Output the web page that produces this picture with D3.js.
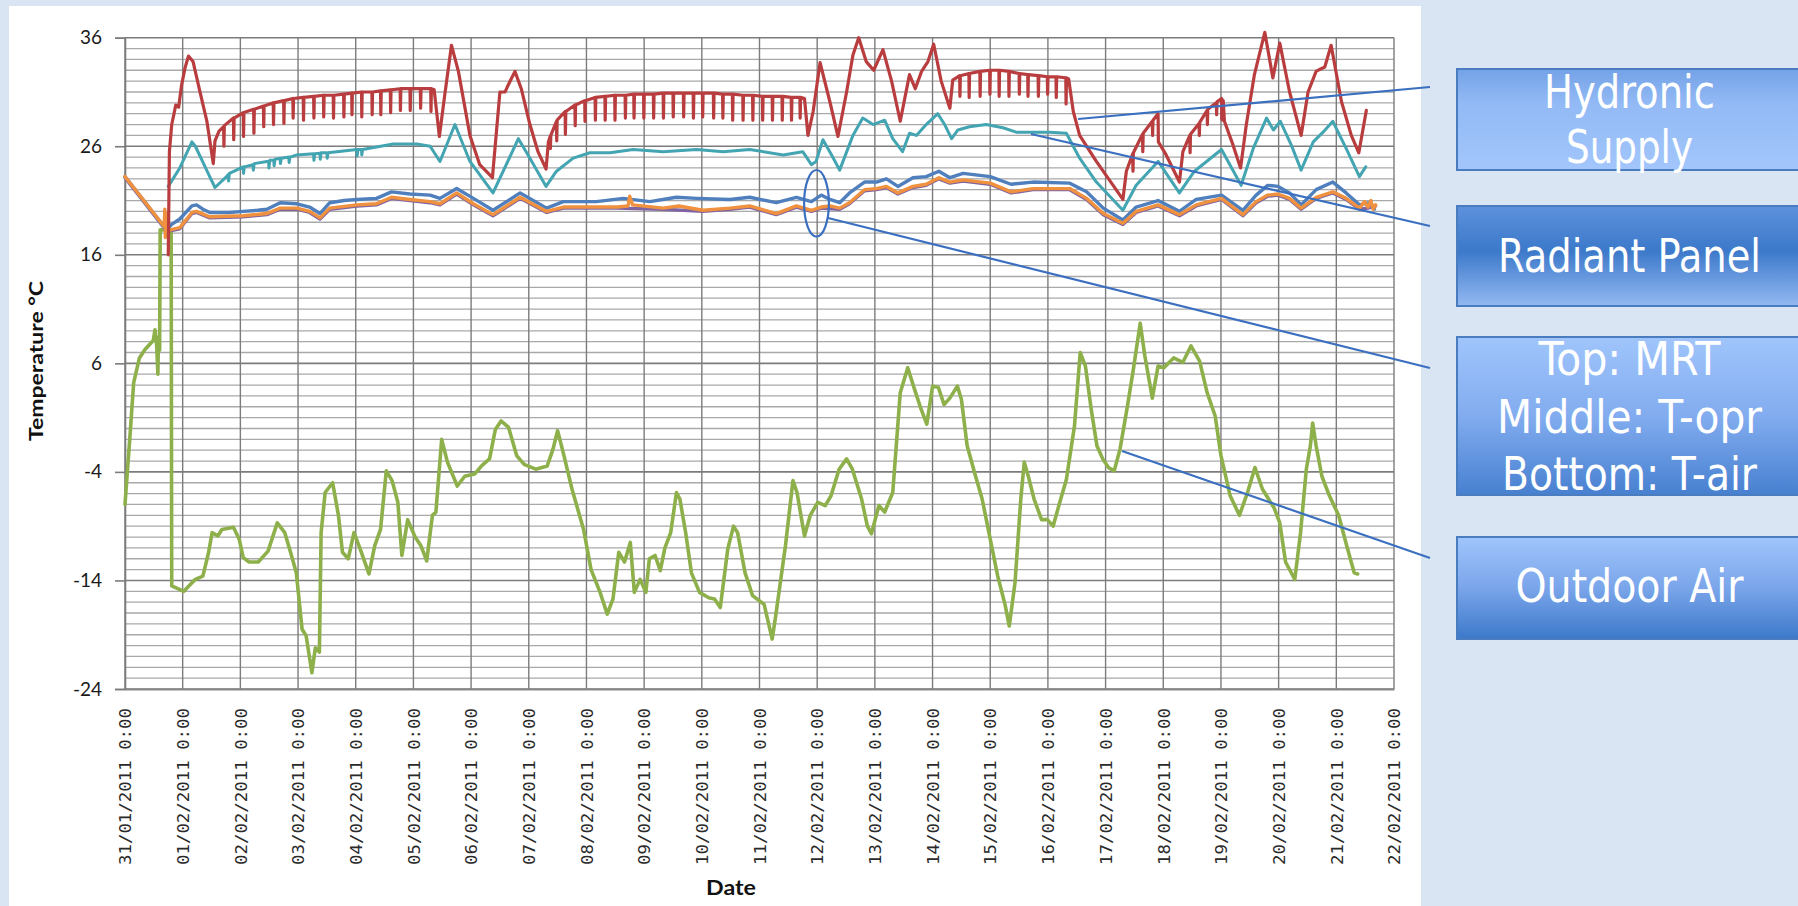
<!DOCTYPE html>
<html><head><meta charset="utf-8">
<script src="https://cdn.jsdelivr.net/npm/d3@7"></script>
<style>body{margin:0;background:#dae5f3;} svg{display:block}</style>
</head><body><svg id="c" width="1798" height="906"></svg>
<script>
// ---------------- DATA ----------------
const dateLabels = ["31/01/2011 0:00","01/02/2011 0:00","02/02/2011 0:00","03/02/2011 0:00","04/02/2011 0:00","05/02/2011 0:00","06/02/2011 0:00","07/02/2011 0:00","08/02/2011 0:00","09/02/2011 0:00","10/02/2011 0:00","11/02/2011 0:00","12/02/2011 0:00","13/02/2011 0:00","14/02/2011 0:00","15/02/2011 0:00","16/02/2011 0:00","17/02/2011 0:00","18/02/2011 0:00","19/02/2011 0:00","20/02/2011 0:00","21/02/2011 0:00","22/02/2011 0:00"];
const yTicks = [-24,-14,-4,6,16,26,36];
// [days since 31/01/2011 0:00, °C]
const hydronicSupply = [[0.75,16.0],[0.77,25.5],[0.81,28.0],[0.85,29.0],[0.88,29.8],[0.93,29.6],[0.98,31.6],[1.04,33.2],[1.10,34.3],[1.18,33.8],[1.30,31.0],[1.42,28.3],[1.53,24.4],[1.56,26.5],[1.63,27.4],
[1.71,27.8],[1.715,26.0],[1.722,27.9],[1.88,28.6],[1.885,26.6],[1.892,28.6],[2.05,29.1],[2.055,26.9],[2.062,29.1],[2.23,29.4],[2.235,27.2],[2.242,29.4],[2.40,29.7],[2.405,27.8],[2.412,29.7],[2.57,30.0],[2.575,28.0],[2.582,30.0],[2.75,30.2],[2.755,28.1],[2.762,30.2],[2.91,30.4],[2.915,28.6],[2.922,30.4],[3.09,30.5],[3.095,28.4],[3.102,30.5],[3.27,30.6],[3.275,28.6],[3.282,30.6],[3.44,30.7],[3.445,28.7],[3.452,30.7],[3.61,30.7],[3.615,28.6],[3.622,30.7],[3.79,30.8],[3.795,28.7],[3.802,30.8],[3.93,30.9],[3.935,28.9],[3.942,30.9],[4.10,31.0],[4.105,28.7],[4.112,31.0],[4.28,31.0],[4.285,28.9],[4.292,31.0],[4.43,31.1],[4.435,28.9],[4.442,31.1],[4.60,31.2],[4.605,29.1],[4.612,31.2],[4.77,31.3],[4.775,29.3],[4.782,31.3],[4.94,31.3],[4.945,29.3],[4.952,31.3],[5.12,31.3],[5.125,29.5],[5.132,31.3],[5.30,31.3],[5.305,29.2],[5.312,31.3],
[5.36,31.2],[5.45,26.9],[5.55,31.0],[5.66,35.3],[5.78,32.9],[5.98,27.0],[6.15,24.3],[6.37,23.1],[6.45,28.0],[6.50,31.0],[6.59,31.0],[6.64,31.6],[6.76,32.9],[6.87,31.3],[7.02,28.0],[7.16,25.5],[7.30,23.9],[7.34,26.4],
[7.37,26.9],[7.375,25.8],[7.382,27.0],[7.48,28.3],[7.485,26.5],[7.492,28.4],[7.63,29.2],[7.635,27.1],[7.642,29.2],[7.80,29.8],[7.805,27.9],[7.812,29.8],[7.97,30.2],[7.975,28.3],[7.982,30.2],[8.15,30.5],[8.155,28.4],[8.162,30.5],[8.32,30.6],[8.325,28.4],[8.332,30.6],[8.49,30.7],[8.495,28.4],[8.502,30.7],[8.67,30.7],[8.675,28.6],[8.682,30.7],[8.82,30.8],[8.825,28.6],[8.832,30.8],[8.99,30.8],[8.995,28.6],[9.002,30.8],[9.16,30.8],[9.165,28.6],[9.172,30.8],[9.33,30.9],[9.335,28.6],[9.342,30.9],[9.50,30.9],[9.505,28.7],[9.512,30.9],[9.68,30.9],[9.685,28.7],[9.692,30.9],[9.85,30.9],[9.855,28.6],[9.862,30.9],[10.01,30.9],[10.015,28.7],[10.022,30.9],[10.20,30.9],[10.205,28.6],[10.212,30.9],[10.36,30.8],[10.365,28.6],[10.372,30.8],[10.53,30.8],[10.535,28.4],[10.542,30.8],[10.71,30.7],[10.715,28.4],[10.722,30.7],[10.88,30.7],[10.885,28.4],[10.892,30.7],[11.05,30.6],[11.055,28.4],[11.062,30.6],[11.22,30.6],[11.225,28.4],[11.232,30.6],[11.39,30.6],[11.395,28.4],[11.402,30.6],[11.55,30.5],[11.555,28.4],[11.562,30.5],[11.70,30.5],[11.705,28.6],[11.712,30.5],
[11.78,30.4],[11.84,27.0],[11.93,29.2],[12.05,33.7],[12.22,30.1],[12.36,26.9],[12.51,31.0],[12.62,34.4],[12.72,36.0],[12.85,33.8],[12.98,33.0],[13.14,34.9],[13.29,32.0],[13.44,28.3],[13.60,32.6],[13.70,31.3],[13.81,32.9],[13.92,33.8],[14.02,35.4],[14.15,32.0],[14.30,29.5],[14.35,32.1],
[14.47,32.5],[14.475,30.6],[14.482,32.5],[14.63,32.7],[14.635,30.5],[14.642,32.7],[14.82,32.9],[14.825,30.6],[14.832,32.9],[14.99,33.0],[14.995,30.8],[15.002,33.0],[15.15,33.0],[15.155,30.6],[15.162,33.0],[15.32,32.9],[15.325,30.6],[15.332,32.9],[15.50,32.7],[15.505,30.8],[15.512,32.7],[15.65,32.6],[15.655,30.6],[15.662,32.6],[15.83,32.5],[15.835,30.6],[15.842,32.5],[15.99,32.4],[15.995,30.8],[16.002,32.4],[16.14,32.4],[16.145,30.5],[16.152,32.4],[16.31,32.3],[16.315,29.9],[16.322,32.3],
[16.36,32.2],[16.44,29.2],[16.55,27.0],[16.84,24.6],[17.30,21.1],[17.36,23.7],[17.47,25.3],[17.475,23.7],[17.482,25.4],[17.64,27.1],[17.645,25.5],[17.652,27.2],[17.81,28.3],[17.815,27.0],[17.822,28.4],[17.91,29.0],[17.915,26.4],[18.05,25.2],[18.28,22.7],[18.34,25.5],[18.46,27.0],[18.465,25.4],[18.472,27.1],[18.62,28.1],[18.625,27.0],[18.632,28.2],[18.76,29.3],[18.765,28.0],[18.772,29.4],[18.92,30.0],[18.925,28.9],[18.932,30.1],[19.01,30.4],[19.015,28.5],[19.025,30.3],[19.03,28.4],[19.04,30.2],[19.06,28.3],[19.21,26.1],[19.34,24.0],[19.44,28.0],[19.58,32.6],[19.76,36.5],[19.90,32.3],[20.02,35.5],[20.19,31.0],[20.39,27.0],[20.51,31.0],[20.65,32.9],[20.72,33.1],[20.80,33.3],[20.91,35.3],[21.09,30.1],[21.26,27.0],[21.39,25.4],[21.52,29.3]];

const radiantPanel = [[0.75,22.3],[0.95,24.0],[1.16,26.4],[1.22,26.0],[1.45,23.4],[1.56,22.2],[1.76,23.2],[1.79,23.4],[1.795,22.8],[1.81,23.5],[2.05,24.1],[2.055,23.5],[2.07,24.1],[2.22,24.3],[2.225,23.8],[2.24,24.4],[2.46,24.6],[2.49,24.6],[2.495,24.0],[2.51,24.7],[2.58,24.7],[2.585,24.2],[2.60,24.8],[2.69,24.9],[2.695,24.4],[2.71,24.9],[2.84,25.0],[2.845,24.5],[2.86,25.0],[2.98,25.2],[3.27,25.3],[3.275,24.7],[3.29,25.3],[3.38,25.35],[3.385,24.8],[3.40,25.4],[3.50,25.4],[3.505,24.9],[3.52,25.4],[4.02,25.7],[4.025,25.1],[4.04,25.7],[4.10,25.7],[4.105,25.2],[4.12,25.7],[4.65,26.2],[5.06,26.2],[5.29,26.0],[5.46,24.6],[5.72,28.0],[5.98,24.6],[6.38,21.7],[6.82,26.7],[7.02,24.9],[7.30,22.3],[7.48,23.7],[7.77,24.9],[8.06,25.4],[8.41,25.4],[8.81,25.7],[9.33,25.5],[9.91,25.7],[10.37,25.5],[10.83,25.7],[11.41,25.2],[11.75,25.5],[11.90,24.3],[11.98,24.6],[12.10,26.6],[12.25,25.2],[12.39,23.8],[12.62,27.0],[12.79,28.6],[12.97,28.0],[13.17,28.4],[13.31,26.7],[13.48,25.5],[13.60,27.2],[13.72,27.0],[13.89,28.0],[14.09,29.0],[14.21,28.0],[14.33,26.7],[14.44,27.5],[14.64,27.8],[14.93,28.0],[15.22,27.7],[15.45,27.3],[15.74,27.3],[16.03,27.3],[16.32,27.2],[16.55,24.9],[16.84,22.7],[17.30,20.1],[17.53,22.4],[17.91,24.6],[18.28,21.7],[18.54,23.7],[19.01,25.7],[19.35,22.4],[19.56,25.8],[19.79,28.6],[19.91,27.5],[20.03,28.3],[20.22,26.1],[20.39,23.8],[20.60,26.4],[20.77,27.3],[20.94,28.3],[21.17,25.8],[21.40,23.2],[21.51,24.1]];

const mrt = [[0,23.2],[0.72,18.3],[0.81,18.8],[0.95,19.3],[1.16,20.5],[1.24,20.6],[1.35,20.2],[1.47,19.9],[1.8,19.9],[2.05,20.0],[2.3,20.1],[2.46,20.2],[2.69,20.8],[2.98,20.7],[3.2,20.4],[3.38,19.8],[3.55,20.8],[3.8,21.0],[4.02,21.1],[4.36,21.2],[4.62,21.8],[4.94,21.6],[5.29,21.5],[5.46,21.2],[5.75,22.1],[6.04,21.2],[6.38,20.1],[6.85,21.7],[7.31,20.3],[7.6,20.9],[8.17,20.9],[8.64,21.2],[9.1,20.9],[9.56,21.3],[9.91,21.2],[10.49,21.1],[10.83,21.3],[11.29,20.8],[11.64,21.3],[11.9,20.9],[12.07,21.5],[12.22,21.1],[12.39,20.8],[12.56,21.7],[12.82,22.7],[13.03,22.7],[13.2,23.0],[13.4,22.3],[13.66,23.1],[13.89,23.2],[14.11,23.7],[14.3,23.1],[14.53,23.5],[15.0,23.2],[15.36,22.5],[15.74,22.7],[16.38,22.6],[16.67,21.8],[16.96,20.3],[17.3,19.2],[17.53,20.4],[17.91,21.0],[18.28,20.0],[18.57,21.1],[19.01,21.5],[19.38,20.1],[19.61,21.5],[19.81,22.4],[19.99,22.3],[20.19,21.7],[20.39,20.6],[20.65,22.0],[20.94,22.7],[21.17,21.7],[21.4,20.6],[21.58,20.8],[21.66,20.2]];

const tOpr = [[0,23.2],[0.68,18.6],[0.69,20.2],[0.70,17.6],[0.72,19.8],[0.74,18.0],[0.78,18.3],[0.95,18.5],[1.16,19.9],[1.24,20.0],[1.47,19.5],[2.05,19.6],[2.46,19.8],[2.69,20.3],[2.98,20.3],[3.2,20.0],[3.38,19.4],[3.55,20.3],[4.02,20.6],[4.36,20.7],[4.62,21.3],[4.94,21.1],[5.29,20.9],[5.46,20.7],[5.75,21.7],[6.04,20.7],[6.38,19.7],[6.85,21.3],[7.31,20.0],[7.6,20.4],[8.52,20.4],[8.72,20.5],[8.75,21.4],[8.8,20.6],[9.33,20.3],[9.6,20.5],[10.02,20.1],[10.49,20.3],[10.83,20.5],[11.29,19.8],[11.64,20.5],[11.9,20.1],[12.07,20.4],[12.22,20.5],[12.39,20.3],[12.56,20.8],[12.82,22.0],[13.03,22.1],[13.2,22.3],[13.4,21.7],[13.66,22.3],[13.89,22.5],[14.11,23.1],[14.3,22.7],[14.53,22.9],[15.0,22.6],[15.36,21.8],[15.74,22.1],[16.38,22.1],[16.67,21.2],[16.96,19.8],[17.3,18.9],[17.53,20.0],[17.91,20.6],[18.28,19.7],[18.57,20.6],[19.01,21.2],[19.38,19.7],[19.61,20.9],[19.81,21.5],[19.99,21.6],[20.19,21.2],[20.39,20.3],[20.65,21.3],[20.94,21.8],[21.17,21.2],[21.4,20.3],[21.49,20.9],[21.55,20.4],[21.6,21.0],[21.64,20.2],[21.68,20.6]];

const tAir = [[0,23.1],[0.72,18.2],[0.78,18.2],[0.95,18.4],[1.16,19.8],[1.24,19.9],[1.47,19.4],[2.05,19.5],[2.46,19.7],[2.69,20.2],[2.98,20.2],[3.2,19.9],[3.38,19.3],[3.55,20.2],[4.02,20.5],[4.36,20.6],[4.62,21.2],[4.94,21.0],[5.29,20.8],[5.46,20.6],[5.75,21.6],[6.04,20.6],[6.38,19.6],[6.85,21.2],[7.31,19.9],[7.6,20.3],[8.52,20.3],[9.33,20.2],[10.02,20.0],[10.49,20.2],[10.83,20.4],[11.29,19.7],[11.64,20.4],[11.9,20.0],[12.07,20.3],[12.39,20.2],[12.56,20.7],[12.82,21.9],[13.03,22.0],[13.2,22.2],[13.4,21.6],[13.66,22.2],[13.89,22.4],[14.11,23.0],[14.3,22.6],[14.53,22.8],[15.0,22.5],[15.36,21.7],[15.74,22.0],[16.38,22.0],[16.67,21.1],[16.96,19.7],[17.3,18.8],[17.53,19.9],[17.91,20.5],[18.28,19.6],[18.57,20.5],[19.01,21.1],[19.38,19.6],[19.61,20.8],[19.81,21.4],[19.99,21.5],[20.19,21.1],[20.39,20.2],[20.65,21.2],[20.94,21.7],[21.17,21.1],[21.4,20.2],[21.55,20.3],[21.68,20.5]];

const outdoorAir = [[0.0,-7.0],[0.09,-0.4],[0.15,4.2],[0.25,6.5],[0.35,7.3],[0.49,8.1],[0.52,9.1],[0.55,7.6],[0.57,5.0],[0.58,8.4],[0.60,7.2],[0.61,18.3],[0.80,18.3],[0.81,-14.5],[1.02,-15.0],[1.22,-13.9],[1.35,-13.6],[1.45,-11.4],[1.51,-9.6],[1.61,-9.9],[1.68,-9.3],[1.88,-9.1],[1.98,-10.2],[2.05,-11.9],[2.15,-12.3],[2.31,-12.3],[2.48,-11.3],[2.64,-8.7],[2.77,-9.6],[2.87,-11.4],[2.97,-13.3],[3.07,-18.5],[3.14,-19.1],[3.24,-22.5],[3.30,-20.2],[3.37,-20.6],[3.40,-9.6],[3.47,-5.9],[3.60,-5.0],[3.70,-8.0],[3.77,-11.4],[3.87,-12.0],[3.97,-9.6],[4.07,-11.0],[4.23,-13.4],[4.33,-10.8],[4.43,-9.3],[4.53,-3.9],[4.63,-4.8],[4.73,-6.8],[4.80,-11.7],[4.90,-8.4],[5.03,-10.0],[5.13,-10.8],[5.23,-12.2],[5.33,-8.0],[5.39,-7.7],[5.49,-1.0],[5.59,-3.1],[5.76,-5.3],[5.89,-4.4],[6.06,-4.2],[6.19,-3.4],[6.32,-2.8],[6.42,-0.1],[6.52,0.7],[6.65,0.1],[6.79,-2.5],[6.92,-3.3],[7.12,-3.75],[7.32,-3.45],[7.42,-1.9],[7.50,-0.2],[7.61,-2.5],[7.75,-5.6],[7.95,-9.3],[8.08,-13.0],[8.23,-15.0],[8.36,-17.1],[8.46,-15.7],[8.56,-11.4],[8.66,-12.3],[8.76,-10.5],[8.83,-15.1],[8.93,-13.9],[9.03,-15.1],[9.09,-12.0],[9.19,-11.7],[9.28,-13.1],[9.36,-11.0],[9.46,-9.6],[9.56,-5.9],[9.62,-6.5],[9.72,-9.6],[9.82,-13.3],[9.96,-15.1],[10.12,-15.6],[10.22,-15.7],[10.32,-16.5],[10.45,-11.1],[10.55,-9.0],[10.62,-9.6],[10.75,-13.3],[10.88,-15.4],[11.08,-16.2],[11.22,-19.4],[11.28,-17.3],[11.45,-10.8],[11.58,-4.8],[11.65,-5.9],[11.78,-9.9],[11.88,-8.0],[12.01,-6.8],[12.14,-7.1],[12.24,-6.2],[12.38,-3.75],[12.51,-2.8],[12.61,-3.75],[12.77,-6.5],[12.87,-9.0],[12.94,-9.7],[13.07,-7.1],[13.17,-7.7],[13.31,-5.9],[13.44,3.3],[13.57,5.6],[13.67,3.9],[13.80,1.8],[13.90,0.4],[14.00,3.9],[14.10,3.8],[14.20,2.2],[14.30,2.8],[14.43,3.9],[14.50,2.7],[14.60,-1.6],[14.73,-4.1],[14.86,-6.5],[15.00,-10.2],[15.13,-13.6],[15.26,-16.3],[15.33,-18.2],[15.43,-14.2],[15.53,-6.5],[15.59,-3.1],[15.66,-4.4],[15.76,-6.5],[15.89,-8.4],[15.99,-8.4],[16.09,-9.0],[16.19,-7.1],[16.32,-4.7],[16.46,0.2],[16.56,7.0],[16.65,5.75],[16.75,1.8],[16.85,-1.6],[16.95,-2.8],[17.05,-3.6],[17.15,-3.9],[17.25,-1.9],[17.38,2.1],[17.48,5.4],[17.60,9.7],[17.68,6.7],[17.81,2.8],[17.91,5.75],[18.01,5.6],[18.18,6.5],[18.34,6.1],[18.48,7.6],[18.63,6.2],[18.76,3.3],[18.90,1.15],[19.00,-2.5],[19.16,-6.2],[19.32,-8.0],[19.46,-5.9],[19.59,-3.6],[19.72,-5.6],[19.92,-7.3],[20.02,-8.7],[20.12,-12.3],[20.28,-13.9],[20.38,-9.6],[20.48,-3.75],[20.55,-1.6],[20.59,0.5],[20.65,-1.6],[20.75,-4.4],[20.88,-6.2],[21.04,-8.0],[21.18,-10.8],[21.31,-13.3],[21.37,-13.4]];

const calloutText = [["Hydronic","Supply"],["Radiant Panel"],["Top: MRT","Middle: T-opr","Bottom: T-air"],["Outdoor Air"]];

// ---------------- DRAW ----------------
const svg = d3.select("#c");
svg.append("rect").attr("x",9).attr("y",6).attr("width",1412).attr("height",900).attr("fill","#ffffff");

const x = d3.scaleLinear().domain([0,22]).range([125,1394]);
const y = d3.scaleLinear().domain([-24,36]).range([689,37.7]);

const grid = svg.append("g");
const minor = d3.range(-23,36).filter(v => (v+24)%10 !== 0);
grid.selectAll("line.mn").data(minor).join("line")
  .attr("x1",x(0)).attr("x2",x(22)).attr("y1",d=>y(d)).attr("y2",d=>y(d))
  .attr("stroke","#a9a9a9").attr("stroke-width",1.3);
grid.selectAll("line.mj").data(yTicks).join("line")
  .attr("x1",x(0)).attr("x2",x(22)).attr("y1",d=>y(d)).attr("y2",d=>y(d))
  .attr("stroke","#7c7c7c").attr("stroke-width",1.6);
grid.selectAll("line.v").data(d3.range(0,23)).join("line")
  .attr("x1",d=>x(d)).attr("x2",d=>x(d)).attr("y1",y(36)).attr("y2",y(-24))
  .attr("stroke","#7c7c7c").attr("stroke-width",1.4);

// axes
const yAxis = d3.axisLeft(y).tickValues(yTicks).tickFormat(d=>String(d)).tickSize(10).tickPadding(13);
const gy = svg.append("g").attr("transform",`translate(${x(0)},0)`).call(yAxis);
gy.select(".domain").attr("stroke","#7c7c7c").attr("stroke-width",1.6);
gy.selectAll(".tick line").attr("stroke","#7c7c7c").attr("stroke-width",1.6);
gy.selectAll(".tick text").attr("fill","#1a1a1a").style("font-family","Lato, 'Liberation Sans', sans-serif").style("font-size","19px");

const xAxis = d3.axisBottom(x).tickValues(d3.range(0,23)).tickFormat(i=>dateLabels[i]).tickSize(0).tickSizeOuter(0);
const gx = svg.append("g").attr("transform",`translate(0,${y(-24)})`).call(xAxis);
gx.select(".domain").attr("stroke","#888888").attr("stroke-width",2.2);
gx.selectAll(".tick text")
  .attr("transform","rotate(-90)").attr("text-anchor","end")
  .attr("x",-19).attr("y",0).attr("dy","0.36em")
  .attr("fill","#2a2a2a")
  .attr("textLength",157).attr("lengthAdjust","spacingAndGlyphs")
  .style("font-family","'DejaVu Sans Mono', monospace").style("font-size","16px");

// titles
svg.append("text").attr("transform","translate(43,361) rotate(-90)").attr("text-anchor","middle")
  .attr("textLength",160).attr("lengthAdjust","spacingAndGlyphs")
  .style("font-family","Lato, 'Liberation Sans', sans-serif").style("font-weight","bold").style("font-size","19px")
  .attr("fill","#111").text("Temperature °C");
svg.append("text").attr("x",731).attr("y",895).attr("text-anchor","middle")
  .attr("textLength",50).attr("lengthAdjust","spacingAndGlyphs")
  .style("font-family","Lato, 'Liberation Sans', sans-serif").style("font-weight","bold").style("font-size","21px")
  .attr("fill","#111").text("Date");

// series
const line = d3.line().x(d=>x(d[0])).y(d=>y(d[1]));
const series = [
  {d:outdoorAir, c:"#8db04b", w:3.6},
  {d:tAir, c:"#8064a2", w:3.4},
  {d:mrt, c:"#4f7fbd", w:3.4},
  {d:tOpr, c:"#f0913f", w:3.4},
  {d:radiantPanel, c:"#43a4b2", w:3.0},
  {d:hydronicSupply, c:"#b93d3e", w:3.2}
];
svg.append("g").selectAll("path").data(series).join("path")
  .attr("d",s=>line(s.d)).attr("fill","none").attr("stroke",s=>s.c).attr("stroke-width",s=>s.w)
  .attr("stroke-linejoin","round").attr("stroke-linecap","round");

// callout boxes
const defs = svg.append("defs");
const grads = [
  [["0","#74a2e7"],["0.35","#93baf5"],["1","#a2c6fc"]],
  [["0","#5d91dc"],["0.45","#3c79ca"],["1","#94b9f2"]],
  [["0","#a0c5fc"],["0.5","#82acef"],["1","#4780d0"]],
  [["0","#a0c5fc"],["0.5","#7aa5ea"],["1","#3c79ca"]]
];
grads.forEach((g,i)=>{
  const lg = defs.append("linearGradient").attr("id","g"+i).attr("x1",0).attr("y1",0).attr("x2",0).attr("y2",1);
  g.forEach(s=>lg.append("stop").attr("offset",s[0]).attr("stop-color",s[1]));
});
const boxes = [
  {y:69, h:101, base:[108,163], w:[171,127]},
  {y:206, h:100, base:[272], w:[263]},
  {y:337, h:158, base:[375,433,490], w:[182,265,255]},
  {y:537, h:102, base:[602], w:[228]}
];
const bg = svg.append("g");
boxes.forEach((b,i)=>{
  bg.append("rect").attr("x",1457).attr("y",b.y).attr("width",345).attr("height",b.h)
    .attr("fill",`url(#g${i})`).attr("stroke","#4a7dc0").attr("stroke-width",2);
  calloutText[i].forEach((t,j)=>{
    bg.append("text").attr("x",1629.5).attr("y",b.base[j]).attr("text-anchor","middle")
      .attr("textLength",b.w[j]).attr("lengthAdjust","spacingAndGlyphs")
      .style("font-family","'Liberation Sans Narrow','DejaVu Sans Condensed','Open Sans',sans-serif")
      .style("font-size","46px").attr("fill","#ffffff").text(t);
  });
});

// callout lines
const cl = svg.append("g").attr("stroke","#3b70c0").attr("stroke-width",2.2).attr("fill","none");
[[1078,119,1430,87],[1031,134,1430,226],[828,218,1430,368],[1122,451,1430,558]].forEach(l=>{
  cl.append("line").attr("x1",l[0]).attr("y1",l[1]).attr("x2",l[2]).attr("y2",l[3]);
});
cl.append("ellipse").attr("cx",816.5).attr("cy",203.3).attr("rx",12.4).attr("ry",33.3);
</script></body></html>
